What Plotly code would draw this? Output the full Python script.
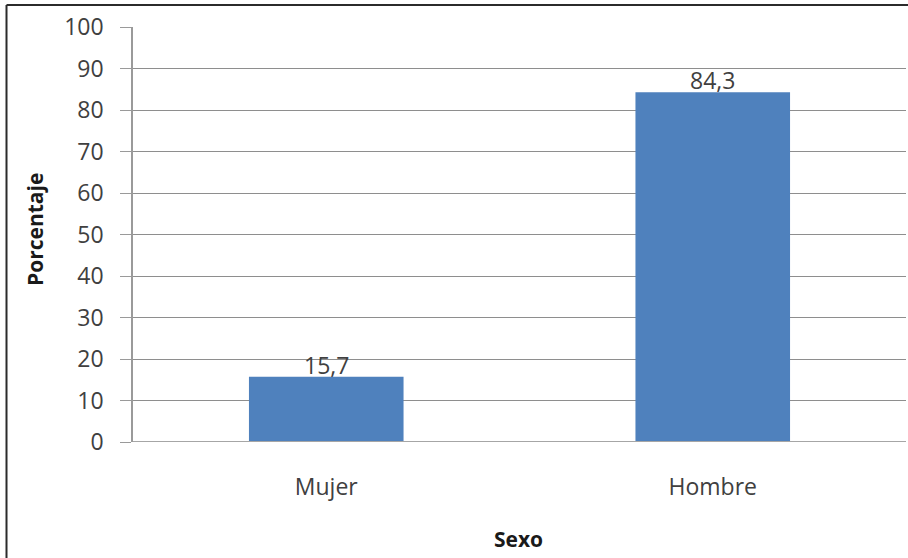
import plotly.graph_objects as go

# Distribution by sex (percent)
categories = ["Mujer", "Hombre"]
percentages = [15.7, 84.3]
y_ticks = [0, 10, 20, 30, 40, 50, 60, 70, 80, 90, 100]

W, H = 908, 558
L, R, T, B = 133, 2, 27, 116
pw, ph = W - L - R, H - T - B


def px_x(x):
    return (x - L) / pw


def px_y(y):
    return (H - B - y) / ph


FONT = "Open Sans"
TXT = "#404040"

fig = go.Figure(
    go.Bar(
        x=categories,
        y=percentages,
        width=0.4,
        marker=dict(color="#4F81BD", line=dict(width=0)),
    )
)

# value labels sitting just above each bar
value_labels = [
    dict(x=c, y=v, xref="x", yref="y", text=f"{v:.1f}".replace(".", ","),
         showarrow=False, yanchor="middle", xanchor="center", yshift=12,
         font=dict(family=FONT, size=23, color=TXT))
    for c, v in zip(categories, percentages)
]

fig.update_layout(
    width=W,
    height=H,
    margin=dict(l=L, r=R, t=T, b=B),
    paper_bgcolor="white",
    plot_bgcolor="white",
    showlegend=False,
    bargap=0.6,
    xaxis=dict(
        showgrid=False,
        ticks="",
        showline=False,
        tickfont=dict(family=FONT, size=23, color=TXT),
        ticklabelstandoff=29,
    ),
    yaxis=dict(
        range=[0, 100],
        tickvals=y_ticks,
        showgrid=True,
        gridcolor="#8e8e8e",
        gridwidth=1,
        zeroline=False,
        showline=True,
        linecolor="#9a9a9a",
        linewidth=1.5,
        ticks="outside",
        ticklen=11,
        tickcolor="#9a9a9a",
        tickfont=dict(family=FONT, size=23, color=TXT),
        ticklabelstandoff=12,
    ),
    shapes=[
        # baseline at 0
        dict(type="line", xref="paper", yref="y", x0=0, x1=1, y0=0, y1=0,
             line=dict(color="#a6a6a6", width=2)),
        # outer frame (left and top edges)
        dict(type="line", xref="paper", yref="paper",
             x0=px_x(6.5), x1=px_x(6.5), y0=px_y(H + 2), y1=px_y(5),
             line=dict(color="#2b2b2b", width=2)),
        dict(type="line", xref="paper", yref="paper",
             x0=px_x(6.5), x1=px_x(W + 2), y0=px_y(5), y1=px_y(5),
             line=dict(color="#2b2b2b", width=2)),
    ],
    annotations=value_labels + [
        dict(text="<b>Porcentaje</b>", xref="paper", yref="paper",
             x=px_x(35), y=px_y(230), textangle=-90, showarrow=False,
             font=dict(family=FONT, size=21, color="#1a1a1a"),
             xanchor="center", yanchor="middle"),
        dict(text="<b>Sexo</b>", xref="paper", yref="paper",
             x=px_x(518), y=px_y(539), showarrow=False,
             font=dict(family=FONT, size=21, color="#1a1a1a"),
             xanchor="center", yanchor="middle"),
    ],
)

fig.write_html("out.html")
